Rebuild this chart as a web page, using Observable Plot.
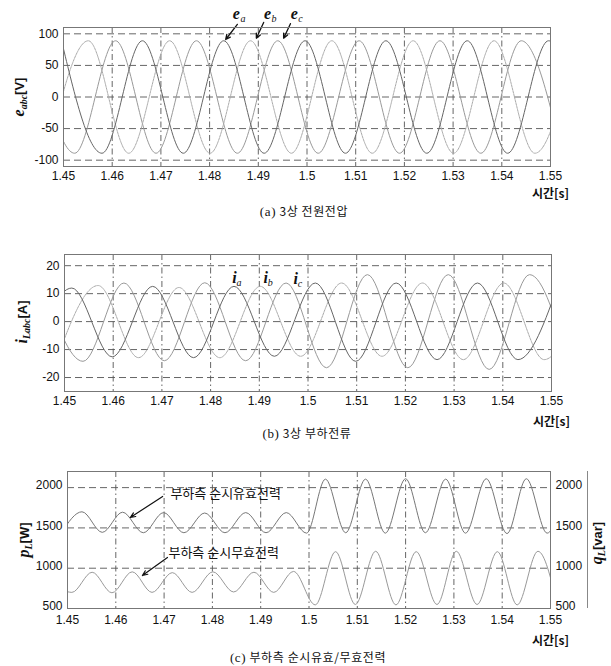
<!DOCTYPE html>
<html>
<head>
<meta charset="utf-8">
<script src="https://cdn.jsdelivr.net/npm/d3@7"></script>
<script src="https://cdn.jsdelivr.net/npm/@observablehq/plot@0.6"></script>
<style>
html,body{margin:0;padding:0;background:#fff;}
#root{position:relative;width:611px;height:666px;overflow:hidden;background:#fff;}
#root > svg{position:absolute;left:0;overflow:visible;}
.ylab{position:absolute;white-space:nowrap;transform:translate(-50%,-50%) rotate(-90deg);font-family:"Liberation Sans",Arial,sans-serif;font-weight:bold;font-size:13px;color:#111;line-height:1;}
.ylab i{font-family:"Liberation Serif","Times New Roman",serif;font-size:16px;font-weight:bold;}
.ylab sub{font-family:"Liberation Serif","Times New Roman",serif;font-style:italic;font-weight:bold;font-size:10px;vertical-align:-3px;}
.cap{position:absolute;white-space:nowrap;transform:translate(-50%,-50%);font-family:"Noto Sans CJK KR",sans-serif;font-size:12px;color:#111;letter-spacing:0.6px;}
.cap span{font-family:"Liberation Serif","Times New Roman",serif;font-size:13px;}
.axisline{position:absolute;left:587px;top:471px;width:0;height:137px;border-left:1px solid #888;}
</style>
</head>
<body>
<div id="root"></div>
<script>
// ---------- shared axis data ----------
const xTicks = [1.45, 1.46, 1.47, 1.48, 1.49, 1.5, 1.51, 1.52, 1.53, 1.54, 1.55];
const xTickLabels = ["1.45", "1.46", "1.47", "1.48", "1.49", "1.5", "1.51", "1.52", "1.53", "1.54", "1.55"];
const timeAxisTitle = ["시간[s]"];

// ---------- (a) 3-phase source voltage: extrema (time [s], value [V]) ----------
const voltageTicks = [-100, -50, 0, 50, 100];
const eaTime = [1.4496, 1.4579, 1.4662, 1.4746, 1.4829, 1.4912, 1.4996, 1.5079, 1.5162, 1.5246, 1.5329, 1.5412, 1.5496, 1.5579];
const eaValue = [89, -89, 89, -89, 89, -89, 89, -89, 89, -89, 89, -89, 89, -89];
const ebTime = [1.4468, 1.4551, 1.4634, 1.4718, 1.4801, 1.4884, 1.4968, 1.5051, 1.5134, 1.5218, 1.5301, 1.5384, 1.5468, 1.5551];
const ebValue = [-89, 89, -89, 89, -89, 89, -89, 89, -89, 89, -89, 89, -89, 89];
const ecTime = [1.4440, 1.4523, 1.4607, 1.4690, 1.4773, 1.4857, 1.4940, 1.5023, 1.5107, 1.5190, 1.5273, 1.5357, 1.5440, 1.5523];
const ecValue = [89, -89, 89, -89, 89, -89, 89, -89, 89, -89, 89, -89, 89, -89];
// phase labels with arrows
const voltageLabelName = ["a", "b", "c"];
const voltageLabelTime = [1.4855, 1.4919, 1.4974];
const voltageLabelValue = [131, 132, 131];
const voltageArrowTime1 = [1.4857, 1.4911, 1.4966];
const voltageArrowValue1 = [115, 118, 116];
const voltageArrowTime2 = [1.4833, 1.4896, 1.4952];
const voltageArrowValue2 = [91, 93, 93];

// ---------- (b) 3-phase load current: extrema (time [s], value [A]) ----------
const currentTicks = [-20, -10, 0, 10, 20];
const iaTime = [1.4431, 1.4515, 1.4598, 1.4681, 1.4765, 1.4848, 1.4931, 1.5015, 1.5098, 1.5181, 1.5265, 1.5348, 1.5431, 1.5515];
const iaValue = [-12.6, 12.0, -12.6, 12.6, -12.9, 12.6, -12.4, 13.8, -14.2, 13.8, -13.6, 13.8, -13.6, 13.8];
const ibTime = [1.4485, 1.4569, 1.4652, 1.4735, 1.4819, 1.4902, 1.4985, 1.5069, 1.5152, 1.5235, 1.5319, 1.5402, 1.5485, 1.5569];
const ibValue = [-12.9, 12.9, -12.9, 12.2, -12.9, 12.6, -12.4, 13.8, -12.4, 13.8, -13.6, 13.8, -13.6, 13.8];
const icTime = [1.4455, 1.4538, 1.4622, 1.4705, 1.4788, 1.4872, 1.4955, 1.5038, 1.5122, 1.5205, 1.5288, 1.5372, 1.5455, 1.5538];
const icValue = [13.8, -14.2, 13.8, -14.0, 13.9, -14.0, 13.8, -16.5, 16.8, -16.5, 16.8, -17.1, 16.8, -16.8];
const currentLabelName = ["a", "b", "c"];
const currentLabelTime = [1.4849, 1.4913, 1.4975];
const currentLabelValue = [15.6, 15.6, 15.4];

// ---------- (c) load instantaneous active / reactive power ----------
const powerTicks = [500, 1000, 1500, 2000];
const pTime = [1.4488, 1.4530, 1.4572, 1.4614, 1.4657, 1.4699, 1.4741, 1.4784, 1.4826, 1.4869, 1.4911, 1.4953, 1.4995, 1.5034, 1.5076, 1.5117, 1.5158, 1.5200, 1.5241, 1.5283, 1.5324, 1.5367, 1.5410, 1.5450, 1.5493, 1.5534];
const pValue = [1445, 1700, 1445, 1695, 1440, 1690, 1440, 1685, 1440, 1690, 1440, 1690, 1435, 2105, 1440, 2105, 1435, 2110, 1440, 2105, 1435, 2110, 1430, 2110, 1435, 2105];
const qTime = [1.4500, 1.4509, 1.4551, 1.4592, 1.4634, 1.4675, 1.4717, 1.4758, 1.4801, 1.4844, 1.4886, 1.4927, 1.4968, 1.5013, 1.5055, 1.5096, 1.5138, 1.5180, 1.5222, 1.5265, 1.5305, 1.5348, 1.5390, 1.5431, 1.5474, 1.5514];
const qValue = [708, 700, 950, 695, 955, 700, 945, 700, 955, 705, 950, 700, 960, 545, 1205, 550, 1210, 545, 1205, 550, 1210, 550, 1205, 545, 1210, 550];
const powerNoteText = ["부하측 순시유효전력", "부하측 순시무효전력"];
const powerNoteTime = [1.4713, 1.4709];
const powerNoteValue = [1927, 1195];
const powerArrowTime1 = [1.4697, 1.4707];
const powerArrowValue1 = [1890, 1133];
const powerArrowTime2 = [1.4630, 1.4655];
const powerArrowValue2 = [1629, 909];

// ---------- helpers ----------
const root = document.getElementById("root");
const rows = (ts, vs) => ts.map((t, i) => ({t, v: vs[i]}));
const SANS = "'Liberation Sans', Arial, sans-serif";
const SERIF = "'Liberation Serif', 'Times New Roman', serif";
const KR = "'Noto Sans CJK KR', sans-serif";

function curve(ts, vs, stroke, extra = {}) {
  return Plot.line(rows(ts, vs), {x: "t", y: "v", curve: "monotone-x", stroke, strokeWidth: 1, clip: true, ...extra});
}

function panel({top, height, marginTop, marginBottom, marginLeft, marginRight, yDomain, yTicks, marks, rightAxis, titleDy, xPad = 5, yDy = 0}) {
  const svg = Plot.plot({
    width: 611, height, marginTop, marginBottom, marginLeft, marginRight,
    style: {fontFamily: SANS, fontSize: "12px", color: "#111", background: "transparent", overflow: "visible"},
    x: {domain: [1.45, 1.55]},
    y: {domain: yDomain},
    marks: [
      Plot.ruleY(yTicks, {stroke: "#555", strokeWidth: 0.9, strokeDasharray: "7,4"}),
      Plot.ruleX(xTicks, {stroke: "#555", strokeWidth: 0.9, strokeDasharray: "6,3,1.5,3"}),
      ...marks,
      Plot.frame({stroke: "#777", strokeWidth: 1}),
      Plot.axisX({ticks: xTicks, tickSize: 0, tickPadding: xPad, label: null, fill: "#111",
        tickFormat: d => xTickLabels[xTicks.indexOf(d)]}),
      Plot.axisY({ticks: yTicks, tickSize: 0, tickPadding: 5, label: null, fill: "#111", dy: yDy, tickFormat: d => String(d)}),
      ...(rightAxis ? [Plot.axisY({anchor: "right", ticks: yTicks, tickSize: 0, tickPadding: 5, label: null, fill: "#111", dy: yDy, tickFormat: d => String(d)})] : []),
      Plot.text(timeAxisTitle, {text: d => d, frameAnchor: "bottom-right", dx: 0, dy: titleDy, textAnchor: "middle",
        fontFamily: KR, fontSize: 12, fontWeight: "bold", fill: "#111"})
    ]
  });
  svg.style.top = top + "px";
  root.appendChild(svg);
}

// ---------- (a) ----------
const vLabels = voltageLabelName.map((n, i) => ({n, t: voltageLabelTime[i], v: voltageLabelValue[i],
  t1: voltageArrowTime1[i], v1: voltageArrowValue1[i], t2: voltageArrowTime2[i], v2: voltageArrowValue2[i]}));
panel({
  top: 0, height: 206, marginTop: 27, marginBottom: 40, marginLeft: 63, marginRight: 61,
  yDomain: [-110, 110], yTicks: voltageTicks, titleDy: 31,
  marks: [
    curve(ecTime, ecValue, "#999"),
    curve(ebTime, ebValue, "#aaa", {strokeDasharray: "2,1"}),
    curve(eaTime, eaValue, "#666"),
    Plot.arrow(vLabels, {x1: "t1", y1: "v1", x2: "t2", y2: "v2", stroke: "#111", strokeWidth: 1.3, headLength: 6, headAngle: 50}),
    Plot.text(vLabels, {x: "t", y: "v", text: d => "e", fontFamily: SERIF, fontStyle: "italic", fontWeight: "bold", fontSize: 16, fill: "#111"}),
    Plot.text(vLabels, {x: "t", y: "v", text: "n", dx: 4, dy: 5, textAnchor: "start", fontFamily: SERIF, fontStyle: "italic", fontSize: 10, fill: "#111"})
  ]
});

// ---------- (b) ----------
const iLabels = currentLabelName.map((n, i) => ({n, t: currentLabelTime[i], v: currentLabelValue[i]}));
panel({
  top: 230, height: 201, marginTop: 24, marginBottom: 40, marginLeft: 64, marginRight: 60,
  yDomain: [-25, 24], yTicks: currentTicks, titleDy: 34,
  marks: [
    curve(icTime, icValue, "#999"),
    curve(ibTime, ibValue, "#aaa", {strokeDasharray: "2,1"}),
    curve(iaTime, iaValue, "#666"),
    Plot.text(iLabels, {x: "t", y: "v", text: d => "i", fontFamily: SERIF, fontStyle: "italic", fontWeight: "bold", fontSize: 16, fill: "#111"}),
    Plot.text(iLabels, {x: "t", y: "v", text: "n", dx: 2, dy: 5, textAnchor: "start", fontFamily: SERIF, fontStyle: "italic", fontSize: 10, fill: "#111"})
  ]
});

// ---------- (c) ----------
const pNotes = powerNoteText.map((s, i) => ({s, t: powerNoteTime[i], v: powerNoteValue[i],
  t1: powerArrowTime1[i], v1: powerArrowValue1[i], t2: powerArrowTime2[i], v2: powerArrowValue2[i]}));
panel({
  top: 447, height: 201, marginTop: 24, marginBottom: 40, marginLeft: 67, marginRight: 61,
  yDomain: [500, 2200], yTicks: powerTicks, titleDy: 36, rightAxis: true, xPad: 7, yDy: -2,
  marks: [
    curve(qTime, qValue, "#999"),
    curve(pTime, pValue, "#777"),
    Plot.arrow(pNotes, {x1: "t1", y1: "v1", x2: "t2", y2: "v2", stroke: "#111", strokeWidth: 1.2, headLength: 7, headAngle: 45}),
    Plot.text(pNotes, {x: "t", y: "v", text: "s", textAnchor: "start", fontFamily: KR, fontSize: 13, fill: "#111"})
  ]
});

// ---------- axis titles and captions (text) ----------
const html = `
<div class="axisline"></div>
<div class="ylab" style="left:20px;top:97px"><i>e</i><sub>abc</sub>[V]</div>
<div class="ylab" style="left:23px;top:322px"><i>i</i><sub>Labc</sub>[A]</div>
<div class="ylab" style="left:25px;top:540px"><i>p</i><sub>L</sub>[W]</div>
<div class="ylab" style="left:598px;top:543px"><i>q</i><sub>L</sub>[var]</div>
<div class="cap" style="left:304px;top:211px"><span>(a)</span> 3상 전원전압</div>
<div class="cap" style="left:307px;top:433px"><span>(b)</span> 3상 부하전류</div>
<div class="cap" style="left:308px;top:657px"><span>(c)</span> 부하측 순시유효/무효전력</div>`;
root.insertAdjacentHTML("beforeend", html);
</script>
</body>
</html>
